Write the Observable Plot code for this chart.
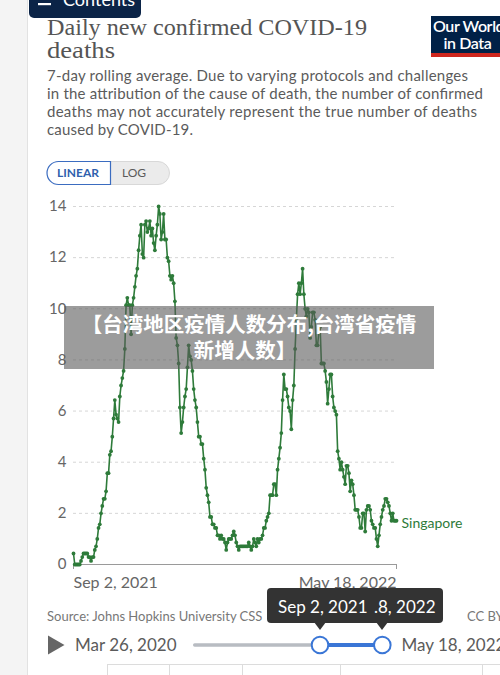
<!DOCTYPE html>
<html><head><meta charset="utf-8">
<script src="https://cdn.jsdelivr.net/npm/d3@7"></script>
<script src="https://cdn.jsdelivr.net/npm/@observablehq/plot@0.6"></script>
<style>
html,body{margin:0;padding:0;background:#fff;}
#root{position:relative;width:500px;height:675px;overflow:hidden;background:#fff;font-family:Lato,sans-serif;}
#chart{position:absolute;left:0;top:190px;}
#deco{position:absolute;left:0;top:0;pointer-events:none;}
</style></head>
<body><div id="root"><div id="chart"></div>
<svg id="deco" width="500" height="675" viewBox="0 0 500 675" font-family="Lato, sans-serif">
  <rect x="0" y="0" width="27" height="675" fill="#f4f4f4"/>
  <line x1="27.5" y1="0" x2="27.5" y2="675" stroke="#e2e2e2"/>
  <!-- Contents button -->
  <rect x="29" y="-12" width="112" height="30" rx="5" fill="#0b2447"/>
  <rect x="38" y="3" width="13" height="2.2" fill="#fff"/>
  <text x="63" y="6" font-size="18" fill="#fff">Contents</text>
  <!-- title -->
  <text x="47" y="35" font-family="Liberation Serif" font-size="23" fill="#555" textLength="320" lengthAdjust="spacingAndGlyphs">Daily new confirmed COVID-19</text>
  <text x="47" y="57.5" font-family="Liberation Serif" font-size="23" fill="#555" textLength="68" lengthAdjust="spacingAndGlyphs">deaths</text>
  <!-- logo -->
  <rect x="431" y="16" width="80" height="38" fill="#002147"/>
  <rect x="431" y="53" width="80" height="4" fill="#ce261e"/>
  <text x="433" y="32" font-size="16" font-weight="600" fill="#fff" letter-spacing="-0.4">Our World</text>
  <text x="467.5" y="48.5" font-size="16" font-weight="600" fill="#fff" text-anchor="middle" letter-spacing="-0.4">in Data</text>
  <!-- subtitle -->
  <g font-size="15" fill="#5b5b5b">
    <text x="47" y="81" textLength="421">7-day rolling average. Due to varying protocols and challenges</text>
    <text x="47" y="99" textLength="436">in the attribution of the cause of death, the number of confirmed</text>
    <text x="47" y="117" textLength="430">deaths may not accurately represent the true number of deaths</text>
    <text x="47" y="135" textLength="146">caused by COVID-19.</text>
  </g>
  <!-- linear / log -->
  <path d="M110.5 161.5 H158 a11.5 11.5 0 0 1 0 23 H110.5 Z" fill="#ebebeb" stroke="#d8d8d8"/>
  <path d="M58.5 161.5 H110.5 V184.5 H58.5 a11.5 11.5 0 0 1 0 -23 Z" fill="#fff" stroke="#3b6cc0" stroke-width="1.2"/>
  <text x="78" y="177" font-size="12" font-weight="bold" fill="#2f5fad" text-anchor="middle">LINEAR</text>
  <text x="134" y="177" font-size="12" fill="#5a5a5a" text-anchor="middle">LOG</text>
  <!-- watermark banner -->
  <rect x="64" y="306" width="370" height="63" fill="rgb(90,90,90)" fill-opacity="0.6"/>
  <g font-family="Noto Sans CJK SC" font-weight="bold" font-size="20.5" fill="#fff" text-anchor="middle" dominant-baseline="central">
    <text x="249" y="322.5">【台湾地区疫情人数分布,台湾省疫情</text>
    <text x="245" y="348.5">新增人数】</text>
  </g>
  <!-- source -->
  <text x="47" y="620.5" font-size="13" fill="#777">Source: Johns Hopkins University CSS</text>
  <text x="467" y="620.5" font-size="13" fill="#777">CC BY</text>
  <!-- tooltip -->
  <rect x="267" y="588" width="176" height="35" rx="4" fill="#333"/>
  <path d="M314 622 L320 630 L326 622 Z" fill="#333"/>
  <path d="M376 622 L382 630 L388 622 Z" fill="#333"/>
  <text x="278" y="612.5" font-size="17" fill="#fff">Sep 2, 2021</text>
  <text x="374" y="612.5" font-size="17" fill="#fff">.8, 2022</text>
  <!-- timeline -->
  <path d="M48 635.5 L64.5 645 L48 654.5 Z" fill="#666"/>
  <text x="75" y="651" font-size="17" fill="#5b5b5b">Mar 26, 2020</text>
  <rect x="193" y="643.3" width="127" height="3.4" rx="1.7" fill="#b8bcc2"/>
  <rect x="320" y="643" width="62" height="4" fill="#3a76d6"/>
  <circle cx="320" cy="645" r="8.3" fill="#fff" stroke="#3a76d6" stroke-width="2"/>
  <circle cx="382.3" cy="645" r="8.3" fill="#fff" stroke="#3a76d6" stroke-width="2"/>
  <text x="401.5" y="651" font-size="17" fill="#5b5b5b">May 18, 2022</text>
  <!-- tabs -->
  <g stroke="#dcdcdc">
    <line x1="107" y1="664.5" x2="500" y2="664.5"/>
    <line x1="107.5" y1="664" x2="107.5" y2="675"/>
    <line x1="169.5" y1="664" x2="169.5" y2="675"/>
    <line x1="242.5" y1="664" x2="242.5" y2="675"/>
    <line x1="340.5" y1="664" x2="340.5" y2="675"/>
    <line x1="482.5" y1="664" x2="482.5" y2="675"/>
  </g>
</svg>
</div>
<script>
// Singapore, daily new confirmed COVID-19 deaths (7-day rolling average), one value per day from Sep 2, 2021
const startDate = new Date(Date.UTC(2021, 8, 2));
const deaths = [
  0.43, 0, 0, 0, 0, 0, 0.14, 0.29, 0.43, 0.43,
  0.43, 0.43, 0.29, 0.29, 0.14, 0.29, 0.29, 0.57, 0.71, 1.0,
  1.43, 1.57, 2.0, 2.29, 2.57, 2.57, 2.86, 3.57, 3.57, 4.29,
  4.43, 5.0, 5.71, 6.43, 5.86, 5.71, 5.57, 6.57, 7.0, 7.29,
  7.57, 8.43, 10.14, 10.43, 10.14, 10.14, 9.0, 10.14, 10.43, 10.86,
  11.29, 11.57, 12.29, 12.86, 13.29, 12.14, 12.0, 13.29, 13.43, 13.0,
  13.14, 13.43, 12.86, 13.14, 12.57, 12.29, 12.86, 13.29, 14.0, 13.71,
  12.71, 13.0, 13.71, 12.71, 12.71, 12.0, 11.86, 11.29, 11.14, 11.29,
  11.0, 10.29, 8.86, 8.57, 7.86, 6.14, 5.14, 5.57, 6.14, 6.57,
  6.86, 7.71, 8.57, 8.14, 8.0, 7.57, 6.86, 6.43, 6.14, 5.57,
  5.0, 5.0, 4.71, 4.71, 4.14, 3.71, 3.0, 2.71, 2.43, 1.86,
  1.86, 1.57, 1.57, 1.43, 1.43, 1.14, 1.14, 1.0, 1.14, 1.0,
  1.0, 0.86, 0.57, 0.86, 1.0, 1.0, 1.0, 1.14, 1.29, 1.14,
  0.86, 0.71, 0.57, 0.71, 0.71, 0.71, 0.71, 0.71, 0.71, 0.71,
  0.86, 0.71, 0.57, 0.71, 1.0, 0.86, 0.71, 1.0, 0.86, 1.0,
  1.0, 1.14, 1.43, 1.43, 1.71, 1.86, 2.0, 2.71, 2.71, 2.71,
  3.14, 3.14, 2.71, 3.71, 4.14, 4.57, 5.14, 6.43, 7.43, 6.86,
  6.86, 6.57, 6.14, 6.0, 5.29, 6.43, 7.0, 8.43, 9.57, 10.57,
  11.0, 10.57, 11.0, 11.57, 10.57, 10.0, 9.71, 10.0, 9.86, 8.86,
  9.29, 9.86, 9.86, 9.57, 8.57, 8.57, 9.14, 9.29, 7.86, 7.86,
  7.86, 7.57, 7.14, 6.29, 6.86, 7.43, 7.43, 6.57, 6.14, 6.0,
  5.86, 4.43, 4.14, 3.71, 4.0, 3.71, 3.43, 3.14, 3.86, 3.86,
  3.57, 2.86, 3.29, 3.14, 2.71, 2.14, 2.14, 2.14, 1.86, 1.43,
  1.43, 2.0, 2.0, 1.29, 2.14, 2.29, 2.29, 2.14, 1.71, 1.57,
  1.43, 1.43, 1.0, 0.71, 1.14, 1.57, 1.86, 2.14, 2.29, 2.57,
  2.57, 2.43, 2.29, 2.0, 1.71, 2.0, 1.71, 1.71, 1.71
];
const seriesName = "Singapore";
const yTicks = [0, 2, 4, 6, 8, 10, 12, 14];
const xTickDates = [new Date(Date.UTC(2021, 8, 2)), new Date(Date.UTC(2022, 4, 18))];
const xTickLabels = ["Sep 2, 2021", "May 18, 2022"];

const green = "#2e7b3a";
const data = deaths.map((v, i) => ({date: new Date(startDate.getTime() + i * 864e5), value: v}));
const last = data[data.length - 1];

const chart = Plot.plot({
  width: 500,
  height: 410,
  marginTop: 16,
  marginBottom: 36,
  marginLeft: 73,
  marginRight: 104,
  x: {type: "utc", domain: xTickDates},
  y: {domain: [0, 14]},
  style: {fontFamily: "Lato, sans-serif", background: "transparent", overflow: "visible"},
  marks: [
    Plot.gridY(yTicks, {stroke: "#d6d6d6", strokeOpacity: 1, strokeDasharray: "3,3"}),
    Plot.axisY(yTicks, {tickSize: 0, tickPadding: 7, fontSize: 15, fill: "#666", label: null}),
    Plot.ruleY([0], {stroke: "#9a9a9a"}),
    Plot.axisX([xTickDates[0]], {tickSize: 5, tickPadding: 7, textAnchor: "start", fontSize: 16, fill: "#666", stroke: "#9a9a9a", tickFormat: () => xTickLabels[0], label: null}),
    Plot.axisX([xTickDates[1]], {tickSize: 5, tickPadding: 7, textAnchor: "end", fontSize: 16, fill: "#666", stroke: "#9a9a9a", tickFormat: () => xTickLabels[1], label: null}),
    Plot.line(data, {x: "date", y: "value", stroke: green, strokeWidth: 1.6}),
    Plot.dot(data, {x: "date", y: "value", r: 1.9, fill: green}),
    Plot.text([last], {x: "date", y: "value", text: () => seriesName, textAnchor: "start", dx: 5, dy: 3, fill: green, fontSize: 14})
  ]
});
document.getElementById("chart").appendChild(chart);
</script>
</body></html>
